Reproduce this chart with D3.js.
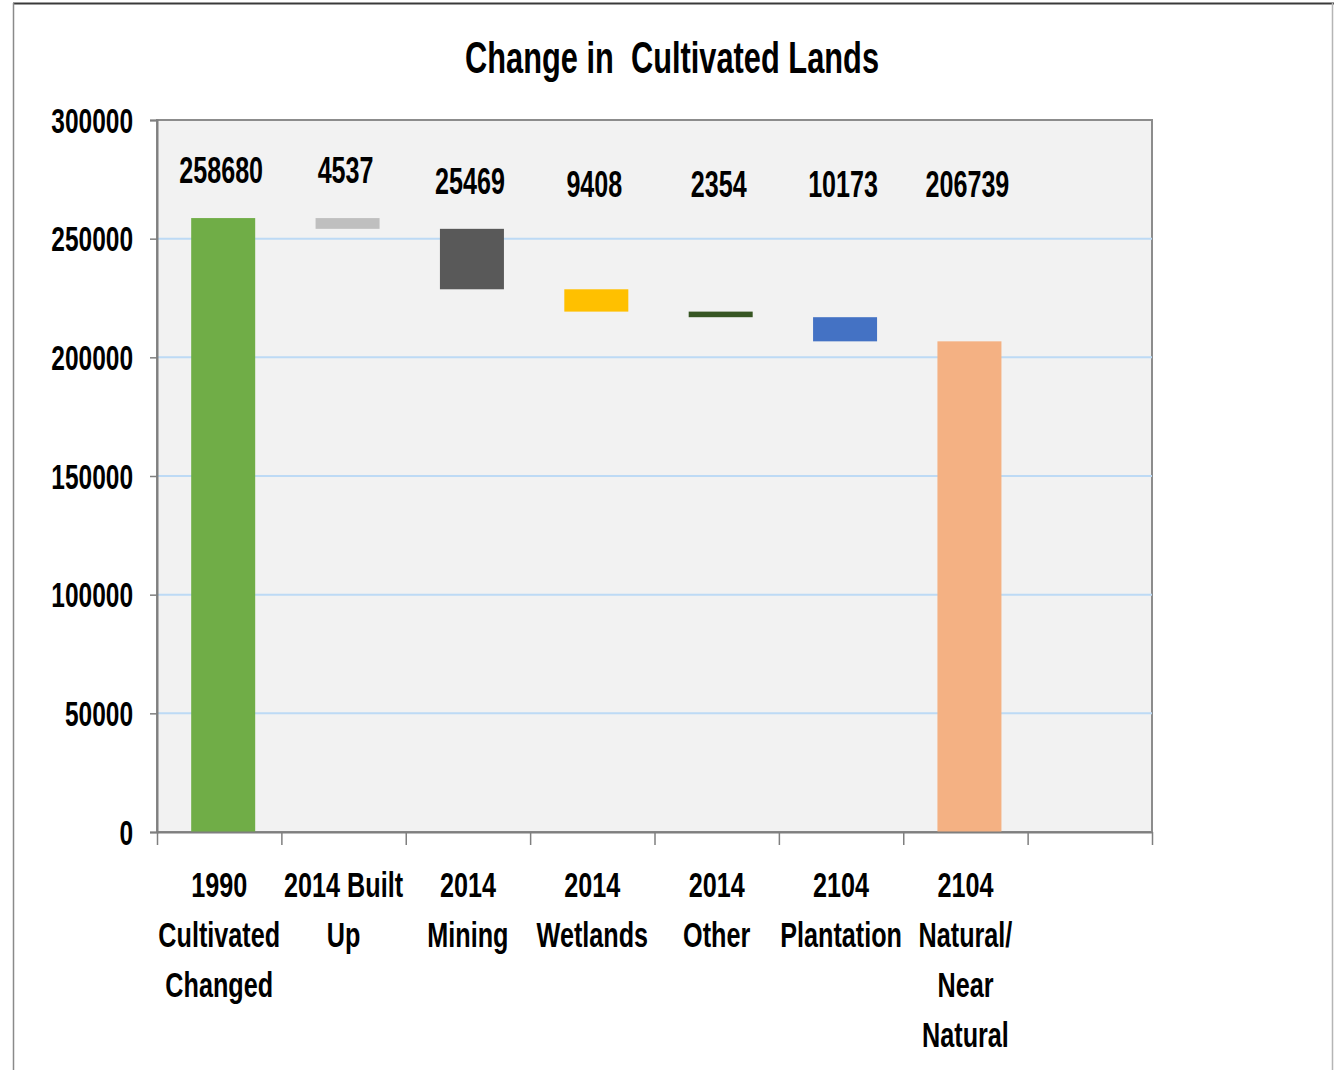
<!DOCTYPE html>
<html>
<head>
<meta charset="utf-8">
<script src="https://cdn.jsdelivr.net/npm/d3@7"></script>
<style>
  html, body { margin: 0; padding: 0; background: #fff; }
  svg { display: block; }
  text { font-family: "Liberation Sans", Arial, sans-serif; font-weight: bold; fill: #000; }
</style>
</head>
<body>
<script>
// Waterfall: cultivated land in 1990, the losses to each class, what is left.
const categoryLines = [
  ["1990", "Cultivated", "Changed"],
  ["2014 Built", "Up"],
  ["2014", "Mining"],
  ["2014", "Wetlands"],
  ["2014", "Other"],
  ["2104", "Plantation"],
  ["2104", "Natural/", "Near", "Natural"]
];
const values = [258680, 4537, 25469, 9408, 2354, 10173, 206739];
const barKinds = ["total", "decrease", "decrease", "decrease", "decrease", "decrease", "total"];
const barColors = ["#70ad47", "#bfbfbf", "#595959", "#ffc000", "#375623", "#4472c4", "#f4b183"];
const yTicks = [0, 50000, 100000, 150000, 200000, 250000, 300000];
const slotCount = 8; // the axis keeps one empty slot after the last bar

const W = 1334, H = 1070;
const plot = { left: 157, right: 1152, top: 120, bottom: 832 };
const SX = 0.7; // narrow lettering

const svg = d3.select("body").append("svg").attr("width", W).attr("height", H);

// outer frame
svg.append("line").attr("x1", 13).attr("x2", 1334).attr("y1", 3.5).attr("y2", 3.5)
  .attr("stroke", "#3a3a3a").attr("stroke-width", 2);
svg.append("line").attr("x1", 13.5).attr("x2", 13.5).attr("y1", 3).attr("y2", H)
  .attr("stroke", "#8a8a8a").attr("stroke-width", 1.5);
svg.append("line").attr("x1", 1332.5).attr("x2", 1332.5).attr("y1", 3).attr("y2", H)
  .attr("stroke", "#b5b5b5").attr("stroke-width", 1.5);

const y = d3.scaleLinear().domain([0, 300000]).range([plot.bottom, plot.top]);
const slotKeys = d3.range(slotCount);
const x = d3.scaleBand().domain(slotKeys).range([plot.left, plot.right]).paddingInner(0).paddingOuter(0);
const xEdge = d3.scaleLinear().domain([0, slotCount]).range([plot.left, plot.right]);

// plot area
svg.append("rect")
  .attr("x", plot.left).attr("y", plot.top)
  .attr("width", plot.right - plot.left).attr("height", plot.bottom - plot.top)
  .attr("fill", "#f2f2f2").attr("stroke", "#8c8c8c").attr("stroke-width", 2);

// gridlines
svg.append("g").selectAll("line")
  .data(yTicks.filter(v => v > 0 && v < 300000))
  .join("line")
  .attr("x1", plot.left).attr("x2", plot.right)
  .attr("y1", d => y(d)).attr("y2", d => y(d))
  .attr("stroke", "#bddaf5").attr("stroke-width", 2);

// waterfall segments
let running = 0;
const segments = values.map((v, i) => {
  let lo, hi;
  if (barKinds[i] === "total") { lo = 0; hi = v; running = v; }
  else { hi = running; lo = running - v; running = lo; }
  return { i, v, lo, hi, color: barColors[i] };
});

const barW = 64;
const barShift = 4;
svg.append("g").selectAll("rect")
  .data(segments)
  .join("rect")
  .attr("x", d => x(d.i) + x.bandwidth() / 2 - barW / 2 + barShift)
  .attr("width", barW)
  .attr("y", d => y(d.hi))
  .attr("height", d => y(d.lo) - y(d.hi))
  .attr("fill", d => d.color);

// value labels
svg.append("g").selectAll("text")
  .data(segments)
  .join("text")
  .attr("text-anchor", "middle")
  .attr("font-size", 37)
  .attr("transform", d => {
    const cx = x(d.i) + x.bandwidth() / 2 + 2;
    const base = Math.min(y(d.hi) - 35, 197);
    return `translate(${cx},${base}) scale(${SX * 0.97},1)`;
  })
  .text(d => d.v);

// y axis
const yAxis = svg.append("g")
  .attr("transform", `translate(${plot.left},0)`)
  .call(d3.axisLeft(y).tickValues(yTicks).tickSize(7).tickFormat(d3.format("d")));
yAxis.select(".domain").attr("stroke", "#7f7f7f").attr("stroke-width", 2);
yAxis.selectAll(".tick line").attr("stroke", "#7f7f7f").attr("stroke-width", 1.5);
yAxis.selectAll(".tick text")
  .attr("x", null).attr("dy", null)
  .attr("font-size", 35)
  .attr("font-family", null)
  .attr("fill", "#000")
  .attr("transform", `translate(-24,12) scale(${SX},1)`);

// x axis: ticks at slot boundaries
const xAxis = svg.append("g")
  .attr("transform", `translate(0,${plot.bottom})`)
  .call(d3.axisBottom(xEdge).tickValues(d3.range(slotCount + 1)).tickSize(13).tickFormat("").tickSizeOuter(0));
xAxis.select(".domain").attr("stroke", "#7f7f7f").attr("stroke-width", 2);
xAxis.selectAll(".tick line").attr("stroke", "#7f7f7f").attr("stroke-width", 1.5);

// category labels
const catG = svg.append("g").selectAll("g")
  .data(categoryLines)
  .join("g")
  .attr("transform", (d, i) => `translate(${x(i) + x.bandwidth() / 2},0)`);
catG.selectAll("text")
  .data(d => d)
  .join("text")
  .attr("text-anchor", "middle")
  .attr("font-size", 36)
  .attr("transform", (d, j) => `translate(0,${897 + j * 50}) scale(${SX},1)`)
  .text(d => d);

// title
svg.append("text")
  .attr("text-anchor", "middle")
  .attr("font-size", 44)
  .attr("transform", `translate(672,73) scale(${SX},1)`)
  .attr("xml:space", "preserve")
  .style("white-space", "pre")
  .text("Change in  Cultivated Lands");
</script>
</body>
</html>
